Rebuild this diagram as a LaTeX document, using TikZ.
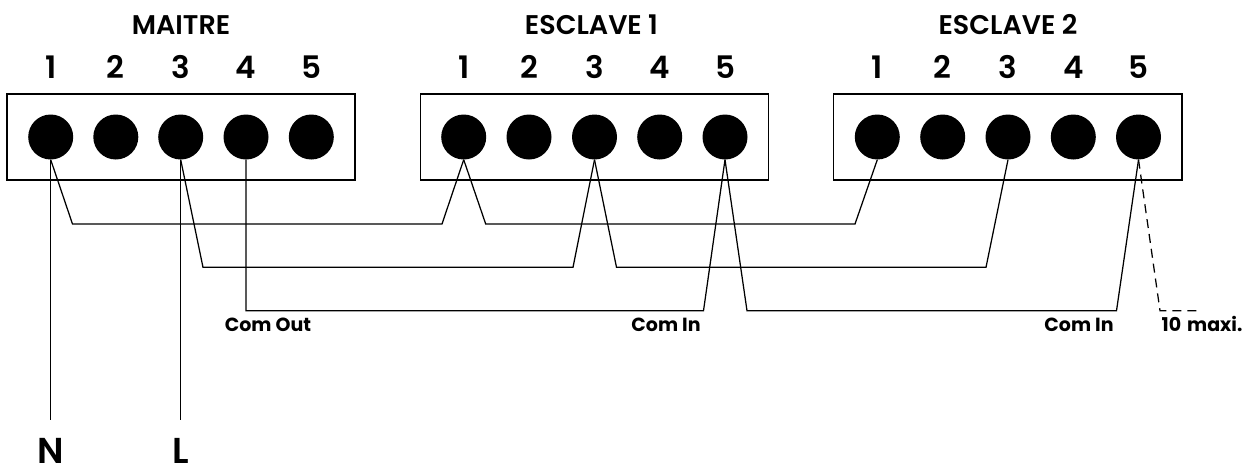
\documentclass[tikz,border=0pt]{standalone}
\usepackage{fontspec}
\setmainfont{Poppins}
\newfontfamily\semifont{Poppins SemiBold}
\begin{document}
\begin{tikzpicture}[x=1pt,y=-1pt,line join=miter,
  wire/.style={draw=black,line width=1.25pt},
  boxst/.style={draw=black,line width=1.25pt},
  term/.style={circle,fill=black,draw=none,minimum size=45pt,inner sep=0pt},
  lab/.style={inner sep=0pt,anchor=base,font=\semifont\fontsize{#1}{#1}\selectfont},
  small/.style={inner sep=0pt,anchor=base,font=\bfseries\fontsize{19}{19}\selectfont},
]
\useasboundingbox (0,0) rectangle (1250,467);
\draw[boxst] (7,94) rectangle (355,180);
\draw[boxst] (420.5,94) rectangle (768.5,180);
\draw[boxst] (833.7,94) rectangle (1182,180);
\foreach \n/\x in {1/50.7,2/115.8,3/180.7,4/246,5/311.3}{
  \node[term] (a\n) at (\x,137) {};
  \node[lab=31] (na\n) at (\x,78) {\n};
}
\foreach \n/\x in {1/463.7,2/529,3/594.5,4/659.7,5/725}{
  \node[term] (b\n) at (\x,137) {};
  \node[lab=31] (nb\n) at (\x,78) {\n};
}
\foreach \n/\x in {1/877.3,2/942.7,3/1008,4/1073.3,5/1138.5}{
  \node[term] (c\n) at (\x,137) {};
  \node[lab=31] (nc\n) at (\x,78) {\n};
}
\node[lab=27] (tm) at (181,34) {MAITRE};
\node[lab=27] (te1) at (591.5,34) {ESCLAVE 1};
\node[lab=27] (te2) at (1008,34) {ESCLAVE 2};
\node[small] (co) at (268,331) {Com Out};
\node[small] (ci1) at (666,331) {Com In};
\node[small] (ci2) at (1079,331) {Com In};
\node[small] (mx) at (1202,331) {10\hspace{2pt} maxi.};
\node[lab=36] (nn) at (50.5,463) {N};
\node[lab=36] (nl) at (181,463) {L};
\coordinate (endn) at (50.7,419.5);
\coordinate (endl) at (180.7,419.5);
\coordinate (enddash) at (1199,310.7);
\draw[wire] (a1.south) -- (endn);
\draw[wire] (a3.south) -- (endl);
\draw[wire] (a1.south) -- (72.5,224) -- (442,224) -- (b1.south);
\draw[wire] (b1.south) -- (485.7,224) -- (855,224) -- (c1.south);
\draw[wire] (a3.south) -- (203,267.3) -- (573,267.3) -- (b3.south);
\draw[wire] (b3.south) -- (616.5,267.3) -- (986,267.3) -- (c3.south);
\draw[wire] (a4.south) -- (246,310.7) -- (703.5,310.7) -- (b5.south);
\draw[wire] (b5.south) -- (747,310.7) -- (1116.5,310.7) -- (c5.south);
\draw[wire,dash pattern=on 9pt off 6pt] (c5.south) -- (1160,310.7) -- (enddash);
\end{tikzpicture}
\end{document}
